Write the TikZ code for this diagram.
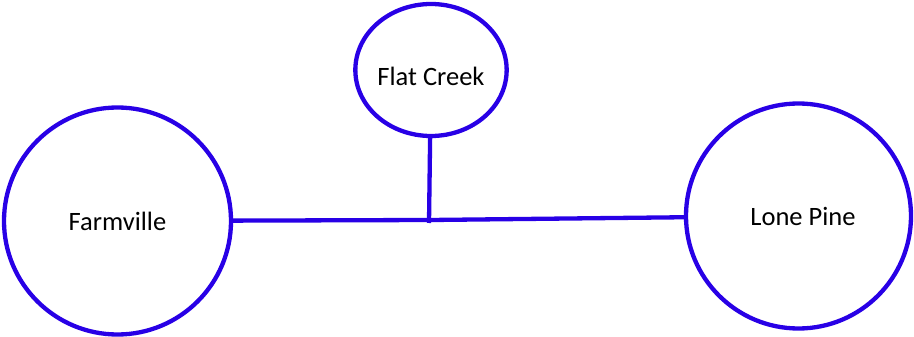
\documentclass[tikz,border=0pt]{standalone}
\usepackage{fontspec}
\setmainfont{Carlito}
\usetikzlibrary{shapes.geometric}
\definecolor{lineblue}{RGB}{40,0,230}
\begin{document}
\begin{tikzpicture}[x=1pt,y=-1pt,
  town/.style={draw=lineblue, line width=4.3pt, circle, inner sep=0pt, font=\fontsize{26.5}{30}\selectfont},
  hamlet/.style={draw=lineblue, line width=4.3pt, ellipse, inner sep=0pt, minimum width=148pt, minimum height=132pt, font=\fontsize{26.5}{30}\selectfont},
  link/.style={draw=lineblue, line width=4.3pt}]
\useasboundingbox (0,0) rectangle (914,337);
\node[town, minimum size=227pt] (farm) at (117.5,221) {Farmville};
\node[town, minimum size=225pt] (lone) at (798.5,216) {\hspace*{9pt}\raisebox{-2pt}{Lone Pine}};
\node[hamlet] (flat) at (431,70) {\raisebox{-16pt}[0pt][0pt]{Flat Creek}};
\coordinate (j) at (430,220);
\coordinate (jb) at (429,223);
\draw[link] (farm) -- (j);
\draw[link] (j) -- (lone);
\draw[link] (flat) -- (jb);
\end{tikzpicture}
\end{document}
